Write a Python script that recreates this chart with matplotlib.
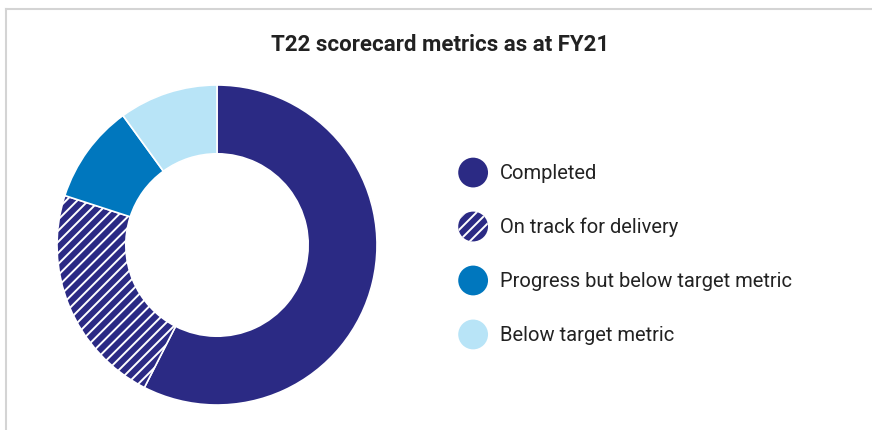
import matplotlib
matplotlib.use('Agg')
import matplotlib.pyplot as plt
import matplotlib.patches as mpatches
from matplotlib.legend_handler import HandlerPatch
from matplotlib.lines import Line2D

plt.rcParams['font.family'] = ['Roboto', 'DejaVu Sans']
plt.rcParams['hatch.linewidth'] = 1.4

# data (counts of metrics)
labels = ['Completed', 'On track for delivery', 'Progress but below target metric', 'Below target metric']
values = [23, 9, 4, 4]
colors = ['#2B2A84', '#2B2A84', '#0077BE', '#B8E4F7']
hatches = [None, '///', None, None]
title = 'T22 scorecard metrics as at FY21'


class HandlerCircle(HandlerPatch):
    def create_artists(self, legend, orig_handle, xdescent, ydescent, width, height, fontsize, trans):
        r = min(width, height) / 2
        c = mpatches.Circle((width / 2 - xdescent, height / 2 - ydescent), r)
        self.update_prop(c, orig_handle, legend)
        c.set_transform(trans)
        return [c]


W, H = 872, 430
fig = plt.figure(figsize=(W / 100, H / 100), dpi=100)
fig.patch.set_facecolor('white')

# frame lines (top and left)
fig.add_artist(Line2D([6 / W, 1], [1 - 9 / H, 1 - 9 / H], transform=fig.transFigure, color='#d4d4d4', lw=1.5))
fig.add_artist(Line2D([6 / W, 6 / W], [0, 1 - 9 / H], transform=fig.transFigure, color='#d4d4d4', lw=1.5))

fig.text(440 / W, 1 - 45 / H, title, ha='center', va='center', fontsize=16, fontweight='bold', color='#222222')

# donut
cx, cy, R = 217, 245, 160
ax = fig.add_axes([(cx - R) / W, (H - cy - R) / H, 2 * R / W, 2 * R / H])
wedges, _ = ax.pie(values, colors=colors, startangle=90, counterclock=False, radius=1,
                   wedgeprops=dict(width=0.43, edgecolor='white', linewidth=1.2))
for w, h in zip(wedges, hatches):
    if h:
        w.set_hatch(h)
ax.set_xlim(-1, 1)
ax.set_ylim(-1, 1)
ax.set_aspect('equal')
ax.axis('off')

# legend
handles = []
for c, h in zip(colors, hatches):
    handles.append(mpatches.Patch(facecolor=c, edgecolor='white' if h else c, hatch=h, linewidth=0))
fs = 14.5
leg = fig.legend(handles, labels, loc='center left', bbox_to_anchor=(454 / W, 1 - 253.5 / H),
                 frameon=False, fontsize=fs, handlelength=1.9, handleheight=1.9,
                 handletextpad=0.4, labelspacing=1.2, borderpad=0, borderaxespad=0,
                 handler_map={mpatches.Patch: HandlerCircle()})
for t in leg.get_texts():
    t.set_color('#222222')

fig.savefig('out.png', dpi=100)
